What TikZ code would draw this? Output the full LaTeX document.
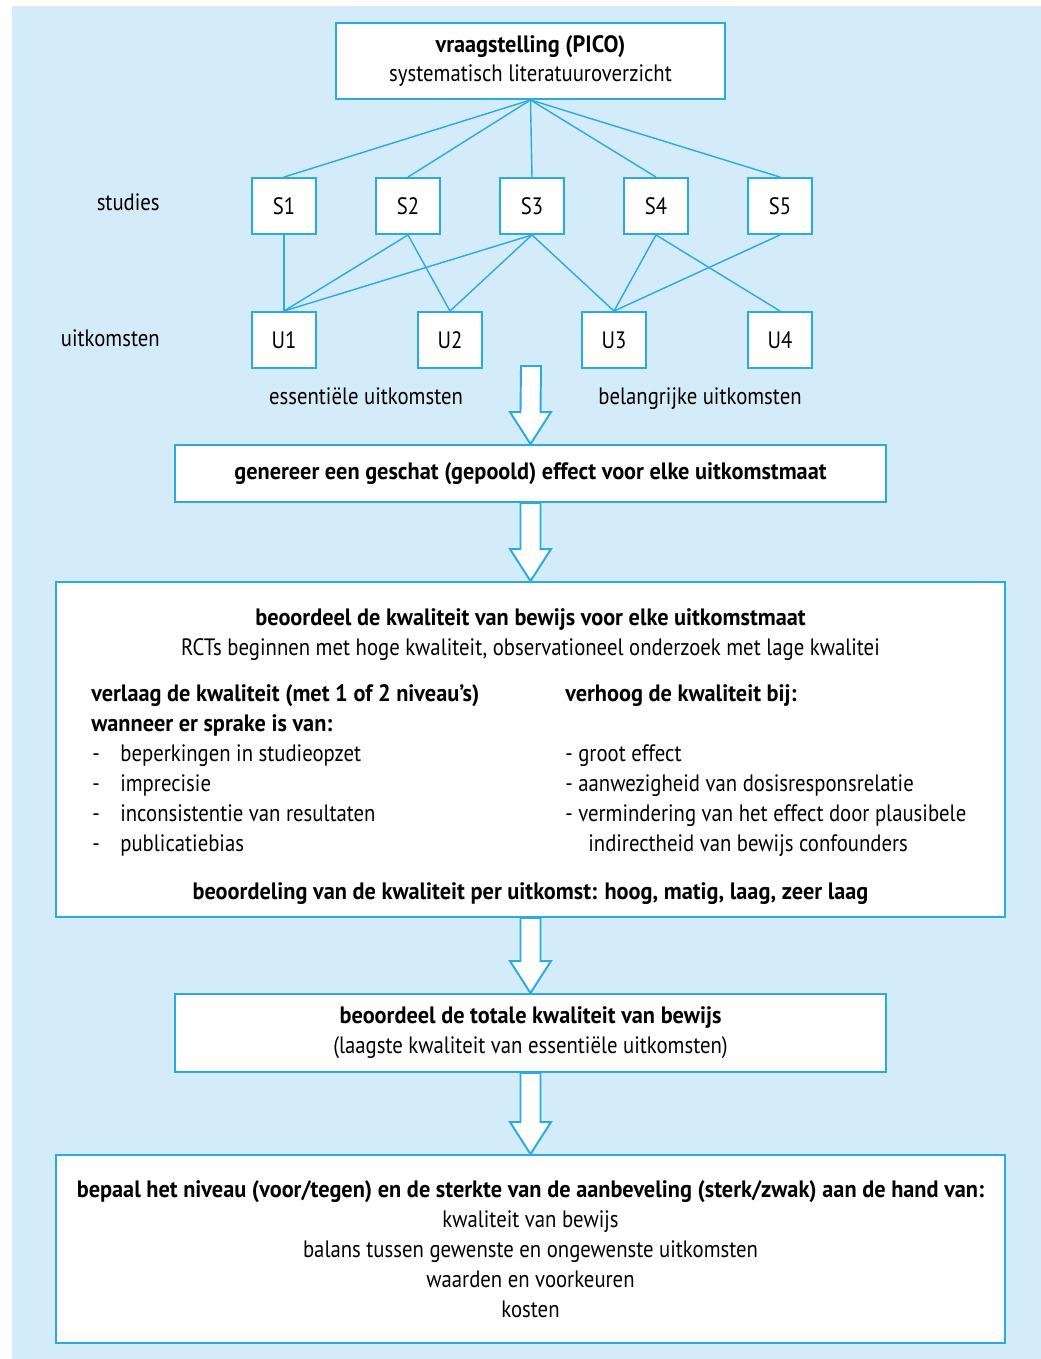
\documentclass[tikz,border=0pt]{standalone}
\usepackage{fontspec}
\setmainfont{PT Sans}[FakeStretch=0.874, BoldFeatures={FakeStretch=0.94}]
\usetikzlibrary{positioning, calc}
\definecolor{gradeblue}{RGB}{41,171,226}
\definecolor{gradebg}{RGB}{212,235,250}
\tikzset{
  box/.style = {rectangle, draw=gradeblue, fill=white, line width=1.1pt, align=center, inner sep=0pt, font=\fontsize{13.5}{17}\selectfont},
  sbox/.style = {box, minimum width=1.28cm, minimum height=1.12cm},
  link/.style = {draw=gradeblue, line width=0.8pt},
  txt/.style = {inner sep=0pt, font=\fontsize{13.5}{17}\selectfont},
  bigarrow/.style = {draw=gradeblue, fill=white, line width=1.1pt, line join=miter}
}
% hollow block arrow from #1 down to the top of node #2
\newcommand\blockarrow[2]{%
  \path[bigarrow] ($(#1)+(-10,0)$) -- ($(#2.north)+(-10,-32)$) -- ($(#2.north)+(-20.5,-32)$)
    -- (#2.north) -- ($(#2.north)+(20.5,-32)$) -- ($(#2.north)+(10,-32)$) -- ($(#1)+(10,0)$) -- cycle;}

\begin{document}
\begin{tikzpicture}[x=0.02cm, y=-0.02cm]

    \useasboundingbox (0,0) rectangle (1041,1359);
    \fill[gradebg] (12,6) rectangle (1041,1359);

    % Question
    \node[box, minimum width=7.78cm, minimum height=1.52cm] (pico) at (530.5,61)
      {\textbf{vraagstelling (PICO)}\\systematisch literatuuroverzicht};

    % Studies and outcomes
    \node[sbox] (S1) at (284,206) {S1};
    \node[sbox] (S2) at (408,206) {S2};
    \node[sbox] (S3) at (532,206) {S3};
    \node[sbox] (S4) at (656,206) {S4};
    \node[sbox] (S5) at (780,206) {S5};
    \node[sbox] (U1) at (284,340) {U1};
    \node[sbox] (U2) at (450,340) {U2};
    \node[sbox] (U3) at (614,340) {U3};
    \node[sbox] (U4) at (780,340) {U4};

    \node[txt, anchor=base east] (studies) at (160,210) {studies};
    \node[txt, anchor=base east] (uitk) at (160,346) {uitkomsten};
    \node[txt, anchor=base] (essential) at (366,404) {essentiële uitkomsten};
    \node[txt, anchor=base] (important) at (700,404) {belangrijke uitkomsten};

    % Links
    \path [link] (pico.south) -- (S1.north);
    \path [link] (pico.south) -- (S2.north);
    \path [link] (pico.south) -- (S3.north);
    \path [link] (pico.south) -- (S4.north);
    \path [link] (pico.south) -- (S5.north);
    \path [link] (S1.south) -- (U1.north);
    \path [link] (S2.south) -- (U1.north);
    \path [link] (S3.south) -- (U1.north);
    \path [link] (S2.south) -- (U2.north);
    \path [link] (S3.south) -- (U2.north);
    \path [link] (S3.south) -- (U3.north);
    \path [link] (S4.south) -- (U3.north);
    \path [link] (S5.south) -- (U3.north);
    \path [link] (S4.south) -- (U4.north);

    % Steps
    \node[box, minimum width=14.22cm, minimum height=1.14cm] (pool) at (530.5,473.5)
      {\textbf{genereer een geschat (gepoold) effect voor elke uitkomstmaat}};
    \node[box, minimum width=18.98cm, minimum height=6.7cm] (quality) at (530.5,749.5) {};
    \node[box, minimum width=14.22cm, minimum height=1.56cm] (total) at (530.5,1033)
      {\textbf{beoordeel de totale kwaliteit van bewijs}\\(laagste kwaliteit van essentiële uitkomsten)};
    \node[box, minimum width=18.98cm, minimum height=3.76cm] (advice) at (530.5,1249)
      {\textbf{bepaal het niveau (voor/tegen) en de sterkte van de aanbeveling (sterk/zwak) aan de hand van:}\\
       kwaliteit van bewijs\\balans tussen gewenste en ongewenste uitkomsten\\waarden en voorkeuren\\kosten};

    % Quality box contents
    \node[txt, anchor=base] (qtitle) at (530.5,625) {\textbf{beoordeel de kwaliteit van bewijs voor elke uitkomstmaat}};
    \node[txt, anchor=base] (qsub) at (530.5,655) {RCTs beginnen met hoge kwaliteit, observationeel onderzoek met lage kwalitei};
    \node[txt, anchor=base west] (down1) at (91,701) {\textbf{verlaag de kwaliteit (met 1 of 2 niveau’s)}};
    \node[txt, anchor=base west] (down2) at (91,731) {\textbf{wanneer er sprake is van:}};
    \node[txt, anchor=base west] (d1) at (92,761) {-};
    \node[txt, anchor=base west] (d2) at (92,791) {-};
    \node[txt, anchor=base west] (d3) at (92,821) {-};
    \node[txt, anchor=base west] (d4) at (92,851) {-};
    \node[txt, anchor=base west] (l1) at (120,761) {beperkingen in studieopzet};
    \node[txt, anchor=base west] (l2) at (120,791) {imprecisie};
    \node[txt, anchor=base west] (l3) at (120,821) {inconsistentie van resultaten};
    \node[txt, anchor=base west] (l4) at (120,851) {publicatiebias};
    \node[txt, anchor=base west] (up) at (565,701) {\textbf{verhoog de kwaliteit bij:}};
    \node[txt, anchor=base west] (r1) at (565,761) {- groot effect};
    \node[txt, anchor=base west] (r2) at (565,791) {- aanwezigheid van dosisresponsrelatie};
    \node[txt, anchor=base west] (r3) at (565,821) {- vermindering van het effect door plausibele};
    \node[txt, anchor=base west] (r4) at (588,851) {indirectheid van bewijs confounders};
    \node[txt, anchor=base] (grade) at (530.5,899) {\textbf{beoordeling van de kwaliteit per uitkomst: hoog, matig, laag, zeer laag}};

    % Block arrows
    \coordinate (netbottom) at (531,366);
    \blockarrow{netbottom}{pool}
    \blockarrow{pool.south}{quality}
    \blockarrow{quality.south}{total}
    \blockarrow{total.south}{advice}

\end{tikzpicture}
\end{document}
